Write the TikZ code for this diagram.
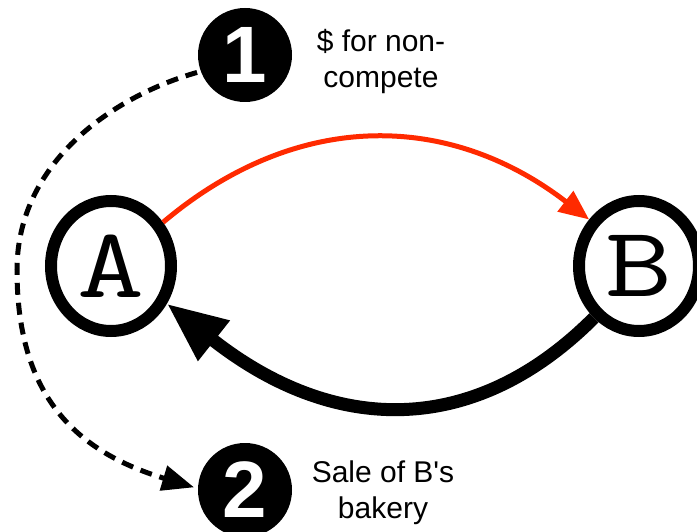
\documentclass[tikz,border=0pt]{standalone}
\usepackage{fontspec}
\setmainfont{Liberation Sans}
\usetikzlibrary{shapes.geometric,arrows.meta}
\definecolor{flowred}{HTML}{FF2A00}
\begin{document}
\begin{tikzpicture}[x=1pt,y=-1pt,
  party/.style={ellipse,draw=black,line width=12pt,minimum width=120pt,
    minimum height=130pt,inner sep=0pt,
    font=\fontsize{100}{100}\selectfont\ttfamily},
  stepnum/.style={circle,fill=black,minimum size=94pt,inner sep=0pt,
    outer sep=4pt,text=white,font=\fontsize{80}{80}\selectfont\bfseries},
  caption/.style={align=center,font=\fontsize{30}{36}\selectfont},
  payment/.style={draw=flowred,line width=5pt,-{Triangle[length=30pt,width=25pt]}},
  transfer/.style={draw=black,line width=13pt,-{Triangle[length=60pt,width=48pt]}},
  sequence/.style={draw=black,line width=5pt,dash pattern=on 12pt off 8pt,
    -{Triangle[length=32pt,width=25pt]}}
]
\useasboundingbox (0,0) rectangle (697,532);

% the two parties
\node[party] (A) at (111,266) {\scalebox{1.3}[1]{A}};
\node[party] (B) at (639,266) {\scalebox{1.3}[1]{B}};

% numbered steps and their captions
\node[stepnum] (n1) at (245,55) {1};
\node[stepnum] (n2) at (245,490) {2};
\node[caption] (t1) at (381,62) {\$ for non-\\compete};
\node[caption] (t2) at (383,493) {Sale of B\textquotesingle s\\bakery};

% flows between the parties
\draw[payment] (A.40) .. controls (296,110) and (448,111) .. (B.137);
\draw[transfer] (B.229) .. controls (476,436) and (336,437) .. (A.-34);

% order of the steps
\coordinate (bend) at (17,270);
\draw[sequence] (n1.200) .. controls (117,95) and (17,160) .. (bend)
  .. controls (17,390) and (70,450) .. (n2.177);
\end{tikzpicture}
\end{document}
